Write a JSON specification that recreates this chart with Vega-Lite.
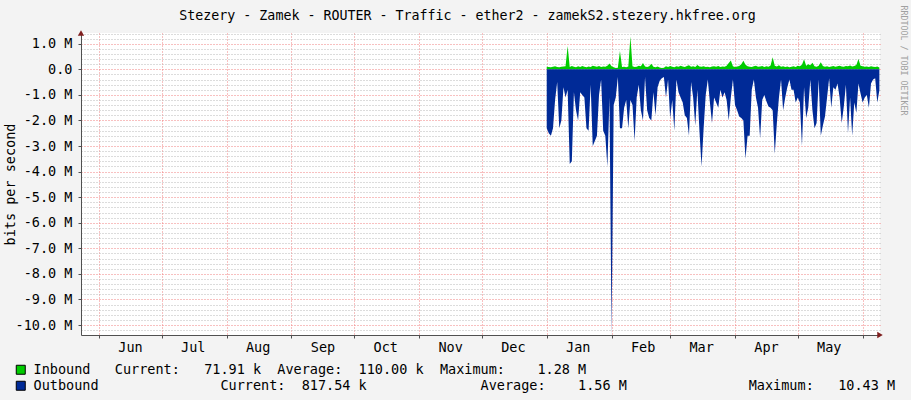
{
"$schema": "https://vega.github.io/schema/vega-lite/v6.json",
"width": 799, "height": 302,
"autosize": "none",
"padding": {"left": 81, "top": 33, "right": 31, "bottom": 65},
"background": "#f3f3f3",
"config": {"font": "DejaVu Sans Mono", "view": {"stroke": null, "fill": "#ffffff"}},
"title": {"text": "Stezery - Zamek - ROUTER - Traffic - ether2 - zamekS2.stezery.hkfree.org", "font": "DejaVu Sans Mono", "fontSize": 13.3, "fontWeight": "normal", "color": "#000000", "anchor": "middle", "dx": -13, "offset": -28, "baseline": "alphabetic"},
"data": {"values": [
{"time":"2013-01-01T00:00:00","inbound":100000,"outbound":-2300000},
{"time":"2013-01-02T00:00:00","inbound":90000,"outbound":-2500000},
{"time":"2013-01-03T00:00:00","inbound":80000,"outbound":-2600000},
{"time":"2013-01-04T00:00:00","inbound":100000,"outbound":-2300000},
{"time":"2013-01-05T00:00:00","inbound":120000,"outbound":-1200000},
{"time":"2013-01-06T00:00:00","inbound":90000,"outbound":-500000},
{"time":"2013-01-07T00:00:00","inbound":80000,"outbound":-2300000},
{"time":"2013-01-08T00:00:00","inbound":100000,"outbound":-2000000},
{"time":"2013-01-09T00:00:00","inbound":110000,"outbound":-700000},
{"time":"2013-01-10T00:00:00","inbound":120000,"outbound":-1100000},
{"time":"2013-01-11T00:00:00","inbound":910000,"outbound":-800000},
{"time":"2013-01-12T00:00:00","inbound":90000,"outbound":-3700000},
{"time":"2013-01-13T00:00:00","inbound":130000,"outbound":-3600000},
{"time":"2013-01-14T00:00:00","inbound":100000,"outbound":-900000},
{"time":"2013-01-15T00:00:00","inbound":80000,"outbound":-1600000},
{"time":"2013-01-16T00:00:00","inbound":120000,"outbound":-2000000},
{"time":"2013-01-17T00:00:00","inbound":90000,"outbound":-900000},
{"time":"2013-01-18T00:00:00","inbound":130000,"outbound":-1000000},
{"time":"2013-01-19T00:00:00","inbound":100000,"outbound":-1100000},
{"time":"2013-01-20T00:00:00","inbound":80000,"outbound":-2300000},
{"time":"2013-01-21T00:00:00","inbound":110000,"outbound":-2400000},
{"time":"2013-01-22T00:00:00","inbound":90000,"outbound":-600000},
{"time":"2013-01-23T00:00:00","inbound":140000,"outbound":-3000000},
{"time":"2013-01-24T00:00:00","inbound":120000,"outbound":-2800000},
{"time":"2013-01-25T00:00:00","inbound":100000,"outbound":-2600000},
{"time":"2013-01-26T00:00:00","inbound":130000,"outbound":-1000000},
{"time":"2013-01-27T00:00:00","inbound":90000,"outbound":-400000},
{"time":"2013-01-28T00:00:00","inbound":110000,"outbound":-2400000},
{"time":"2013-01-29T00:00:00","inbound":100000,"outbound":-2600000},
{"time":"2013-01-30T00:00:00","inbound":140000,"outbound":-3800000},
{"time":"2013-01-31T00:00:00","inbound":230000,"outbound":-1100000},
{"time":"2013-02-01T00:00:00","inbound":120000,"outbound":-10430000},
{"time":"2013-02-02T00:00:00","inbound":80000,"outbound":-1400000},
{"time":"2013-02-03T00:00:00","inbound":50000,"outbound":-1100000},
{"time":"2013-02-04T00:00:00","inbound":60000,"outbound":-300000},
{"time":"2013-02-05T00:00:00","inbound":720000,"outbound":-2300000},
{"time":"2013-02-06T00:00:00","inbound":90000,"outbound":-2300000},
{"time":"2013-02-07T00:00:00","inbound":100000,"outbound":-1500000},
{"time":"2013-02-08T00:00:00","inbound":80000,"outbound":-1200000},
{"time":"2013-02-09T00:00:00","inbound":110000,"outbound":-2300000},
{"time":"2013-02-10T00:00:00","inbound":1280000,"outbound":-1200000},
{"time":"2013-02-11T00:00:00","inbound":120000,"outbound":-1400000},
{"time":"2013-02-12T00:00:00","inbound":90000,"outbound":-2800000},
{"time":"2013-02-13T00:00:00","inbound":100000,"outbound":-1100000},
{"time":"2013-02-14T00:00:00","inbound":140000,"outbound":-600000},
{"time":"2013-02-15T00:00:00","inbound":120000,"outbound":-1600000},
{"time":"2013-02-16T00:00:00","inbound":250000,"outbound":-2000000},
{"time":"2013-02-17T00:00:00","inbound":110000,"outbound":-300000},
{"time":"2013-02-18T00:00:00","inbound":90000,"outbound":-1600000},
{"time":"2013-02-19T00:00:00","inbound":120000,"outbound":-1900000},
{"time":"2013-02-20T00:00:00","inbound":220000,"outbound":-2000000},
{"time":"2013-02-21T00:00:00","inbound":100000,"outbound":-900000},
{"time":"2013-02-22T00:00:00","inbound":80000,"outbound":-1800000},
{"time":"2013-02-23T00:00:00","inbound":110000,"outbound":-700000},
{"time":"2013-02-24T00:00:00","inbound":70000,"outbound":-450000},
{"time":"2013-02-25T00:00:00","inbound":50000,"outbound":-350000},
{"time":"2013-02-26T00:00:00","inbound":60000,"outbound":-300000},
{"time":"2013-02-27T00:00:00","inbound":120000,"outbound":-1100000},
{"time":"2013-02-28T00:00:00","inbound":90000,"outbound":-400000},
{"time":"2013-03-01T00:00:00","inbound":130000,"outbound":-1900000},
{"time":"2013-03-02T00:00:00","inbound":100000,"outbound":-1200000},
{"time":"2013-03-03T00:00:00","inbound":80000,"outbound":-2400000},
{"time":"2013-03-04T00:00:00","inbound":120000,"outbound":-400000},
{"time":"2013-03-05T00:00:00","inbound":100000,"outbound":-900000},
{"time":"2013-03-06T00:00:00","inbound":140000,"outbound":-1100000},
{"time":"2013-03-07T00:00:00","inbound":110000,"outbound":-1300000},
{"time":"2013-03-08T00:00:00","inbound":90000,"outbound":-1800000},
{"time":"2013-03-09T00:00:00","inbound":130000,"outbound":-1900000},
{"time":"2013-03-10T00:00:00","inbound":160000,"outbound":-2600000},
{"time":"2013-03-11T00:00:00","inbound":100000,"outbound":-500000},
{"time":"2013-03-12T00:00:00","inbound":120000,"outbound":-1100000},
{"time":"2013-03-13T00:00:00","inbound":90000,"outbound":-2200000},
{"time":"2013-03-14T00:00:00","inbound":170000,"outbound":-800000},
{"time":"2013-03-15T00:00:00","inbound":110000,"outbound":-2400000},
{"time":"2013-03-16T00:00:00","inbound":100000,"outbound":-3800000},
{"time":"2013-03-17T00:00:00","inbound":120000,"outbound":-2300000},
{"time":"2013-03-18T00:00:00","inbound":90000,"outbound":-1000000},
{"time":"2013-03-19T00:00:00","inbound":100000,"outbound":-400000},
{"time":"2013-03-20T00:00:00","inbound":80000,"outbound":-1300000},
{"time":"2013-03-21T00:00:00","inbound":110000,"outbound":-2100000},
{"time":"2013-03-22T00:00:00","inbound":120000,"outbound":-1100000},
{"time":"2013-03-23T00:00:00","inbound":100000,"outbound":-1300000},
{"time":"2013-03-24T00:00:00","inbound":130000,"outbound":-1500000},
{"time":"2013-03-25T00:00:00","inbound":90000,"outbound":-800000},
{"time":"2013-03-26T00:00:00","inbound":110000,"outbound":-1100000},
{"time":"2013-03-27T00:00:00","inbound":100000,"outbound":-900000},
{"time":"2013-03-28T00:00:00","inbound":140000,"outbound":-1200000},
{"time":"2013-03-29T00:00:00","inbound":250000,"outbound":-2000000},
{"time":"2013-03-30T00:00:00","inbound":340000,"outbound":-1100000},
{"time":"2013-03-31T00:00:00","inbound":120000,"outbound":-400000},
{"time":"2013-04-01T00:00:00","inbound":90000,"outbound":-1400000},
{"time":"2013-04-02T00:00:00","inbound":110000,"outbound":-1600000},
{"time":"2013-04-03T00:00:00","inbound":130000,"outbound":-1850000},
{"time":"2013-04-04T00:00:00","inbound":200000,"outbound":-1900000},
{"time":"2013-04-05T00:00:00","inbound":330000,"outbound":-2000000},
{"time":"2013-04-06T00:00:00","inbound":180000,"outbound":-3500000},
{"time":"2013-04-07T00:00:00","inbound":120000,"outbound":-2600000},
{"time":"2013-04-08T00:00:00","inbound":100000,"outbound":-2600000},
{"time":"2013-04-09T00:00:00","inbound":90000,"outbound":-800000},
{"time":"2013-04-10T00:00:00","inbound":120000,"outbound":-400000},
{"time":"2013-04-11T00:00:00","inbound":140000,"outbound":-1100000},
{"time":"2013-04-12T00:00:00","inbound":100000,"outbound":-1500000},
{"time":"2013-04-13T00:00:00","inbound":110000,"outbound":-2700000},
{"time":"2013-04-14T00:00:00","inbound":130000,"outbound":-1200000},
{"time":"2013-04-15T00:00:00","inbound":90000,"outbound":-1000000},
{"time":"2013-04-16T00:00:00","inbound":120000,"outbound":-1250000},
{"time":"2013-04-17T00:00:00","inbound":100000,"outbound":-1450000},
{"time":"2013-04-18T00:00:00","inbound":150000,"outbound":-1500000},
{"time":"2013-04-19T00:00:00","inbound":470000,"outbound":-1600000},
{"time":"2013-04-20T00:00:00","inbound":140000,"outbound":-3300000},
{"time":"2013-04-21T00:00:00","inbound":110000,"outbound":-2100000},
{"time":"2013-04-22T00:00:00","inbound":160000,"outbound":-1100000},
{"time":"2013-04-23T00:00:00","inbound":100000,"outbound":-400000},
{"time":"2013-04-24T00:00:00","inbound":120000,"outbound":-1600000},
{"time":"2013-04-25T00:00:00","inbound":90000,"outbound":-1100000},
{"time":"2013-04-26T00:00:00","inbound":110000,"outbound":-700000},
{"time":"2013-04-27T00:00:00","inbound":80000,"outbound":-400000},
{"time":"2013-04-28T00:00:00","inbound":100000,"outbound":-800000},
{"time":"2013-04-29T00:00:00","inbound":120000,"outbound":-800000},
{"time":"2013-04-30T00:00:00","inbound":90000,"outbound":-1300000},
{"time":"2013-05-01T00:00:00","inbound":140000,"outbound":-1100000},
{"time":"2013-05-02T00:00:00","inbound":120000,"outbound":-1300000},
{"time":"2013-05-03T00:00:00","inbound":180000,"outbound":-3000000},
{"time":"2013-05-04T00:00:00","inbound":390000,"outbound":-700000},
{"time":"2013-05-05T00:00:00","inbound":140000,"outbound":-1900000},
{"time":"2013-05-06T00:00:00","inbound":200000,"outbound":-1500000},
{"time":"2013-05-07T00:00:00","inbound":160000,"outbound":-400000},
{"time":"2013-05-08T00:00:00","inbound":260000,"outbound":-1600000},
{"time":"2013-05-09T00:00:00","inbound":120000,"outbound":-2300000},
{"time":"2013-05-10T00:00:00","inbound":100000,"outbound":-2100000},
{"time":"2013-05-11T00:00:00","inbound":140000,"outbound":-400000},
{"time":"2013-05-12T00:00:00","inbound":280000,"outbound":-2600000},
{"time":"2013-05-13T00:00:00","inbound":130000,"outbound":-2200000},
{"time":"2013-05-14T00:00:00","inbound":100000,"outbound":-1850000},
{"time":"2013-05-15T00:00:00","inbound":120000,"outbound":-1100000},
{"time":"2013-05-16T00:00:00","inbound":90000,"outbound":-350000},
{"time":"2013-05-17T00:00:00","inbound":110000,"outbound":-1500000},
{"time":"2013-05-18T00:00:00","inbound":130000,"outbound":-700000},
{"time":"2013-05-19T00:00:00","inbound":100000,"outbound":-800000},
{"time":"2013-05-20T00:00:00","inbound":120000,"outbound":-550000},
{"time":"2013-05-21T00:00:00","inbound":140000,"outbound":-1100000},
{"time":"2013-05-22T00:00:00","inbound":110000,"outbound":-2100000},
{"time":"2013-05-23T00:00:00","inbound":100000,"outbound":-1450000},
{"time":"2013-05-24T00:00:00","inbound":130000,"outbound":-600000},
{"time":"2013-05-25T00:00:00","inbound":120000,"outbound":-2500000},
{"time":"2013-05-26T00:00:00","inbound":150000,"outbound":-1100000},
{"time":"2013-05-27T00:00:00","inbound":110000,"outbound":-2600000},
{"time":"2013-05-28T00:00:00","inbound":130000,"outbound":-1300000},
{"time":"2013-05-29T00:00:00","inbound":170000,"outbound":-1700000},
{"time":"2013-05-30T00:00:00","inbound":400000,"outbound":-550000},
{"time":"2013-05-31T00:00:00","inbound":140000,"outbound":-950000},
{"time":"2013-06-01T00:00:00","inbound":120000,"outbound":-1300000},
{"time":"2013-06-02T00:00:00","inbound":100000,"outbound":-1100000},
{"time":"2013-06-03T00:00:00","inbound":110000,"outbound":-1000000},
{"time":"2013-06-04T00:00:00","inbound":90000,"outbound":-1500000},
{"time":"2013-06-05T00:00:00","inbound":120000,"outbound":-550000},
{"time":"2013-06-06T00:00:00","inbound":100000,"outbound":-400000},
{"time":"2013-06-07T00:00:00","inbound":90000,"outbound":-350000},
{"time":"2013-06-08T00:00:00","inbound":110000,"outbound":-1300000},
{"time":"2013-06-09T00:00:00","inbound":72000,"outbound":-818000}
]},
"encoding": {
 "x": {"field": "time", "type": "temporal",
  "scale": {"domain": [{"year": 2012, "month": 5, "date": 23, "hours": 9, "minutes": 36}, {"year": 2013, "month": 6, "date": 9, "hours": 7, "minutes": 12}]},
  "axis": {"orient": "bottom", "title": null, "tickCount": {"interval": "month", "step": 1}, "format": "%b",
   "labelExpr": "datum.value >= datetime(2013,5,1) ? '' : datum.label",
   "labelOffset": 31, "labelAlign": "center", "labelFlush": false, "labelOverlap": false, "labelBound": false,
   "labelFont": "DejaVu Sans Mono", "labelFontSize": 13.5, "labelColor": "#000000", "labelPadding": 2,
   "tickSize": 3, "tickColor": "#505050", "domainColor": "#505050",
   "grid": true, "gridColor": "#f08080", "gridDash": [1, 2]}}
},
"layer": [
{
 "mark": {"type": "area", "interpolate": "linear"},
 "encoding": {
  "y": {"field": "inbound", "type": "quantitative",
   "scale": {"domain": [-10390000, 1420000], "nice": false},
   "axis": {"orient": "left",
    "values": [-10200000,-10000000,-9800000,-9600000,-9400000,-9200000,-9000000,-8800000,-8600000,-8400000,-8200000,-8000000,-7800000,-7600000,-7400000,-7200000,-7000000,-6800000,-6600000,-6400000,-6200000,-6000000,-5800000,-5600000,-5400000,-5200000,-5000000,-4800000,-4600000,-4400000,-4200000,-4000000,-3800000,-3600000,-3400000,-3200000,-3000000,-2800000,-2600000,-2400000,-2200000,-2000000,-1800000,-1600000,-1400000,-1200000,-1000000,-800000,-600000,-400000,-200000,0,200000,400000,600000,800000,1000000,1200000,1400000],
    "title": "bits per second", "titleFont": "DejaVu Sans Mono", "titleFontSize": 13.5, "titleFontWeight": "normal", "titleColor": "#000000",
    "titleAngle": -90, "titleX": -71, "titleY": 151, "titleAlign": "center", "titleBaseline": "middle",
    "labelExpr": "datum.value % 1000000 == 0 ? (datum.value == 0 ? '0.0\u00a0\u00a0' : (datum.value < 0 ? '-' : '') + format(abs(datum.value) / 1000000, '.1f') + '\u00a0M') : ''",
    "labelFont": "DejaVu Sans Mono", "labelFontSize": 13.5, "labelColor": "#000000", "labelPadding": 6, "labelAlign": "right", "labelBaseline": "middle",
    "labelOverlap": false, "labelBound": false, "labelFlush": false,
    "tickSize": 3, "tickColor": "#505050",
    "tickOpacity": {"condition": {"test": "datum.value % 1000000 == 0", "value": 1}, "value": 0},
    "domainColor": "#505050",
    "grid": true,
    "gridColor": {"condition": {"test": "datum.value % 1000000 == 0", "value": "#f08080"}, "value": "#b8b8b8"},
    "gridDash": [1, 2]}},
  "y2": {"datum": 0},
  "color": {"datum": "Inbound", "type": "nominal",
   "scale": {"domain": ["Inbound", "Outbound"], "range": ["#00cc00", "#002a97"]},
   "legend": {"orient": "none", "legendX": -67, "legendY": 330, "direction": "vertical", "title": null,
    "symbolType": "square", "symbolSize": 81, "symbolStrokeColor": "#000000", "symbolStrokeWidth": 1, "symbolOpacity": 1,
    "labelFont": "DejaVu Sans Mono", "labelFontSize": 13.5, "labelColor": "#000000", "labelLimit": 2000, "labelOffset": 6,
    "rowPadding": 1, "padding": 0,
    "labelExpr": "datum.label == 'Inbound' ? 'Inbound\u00a0\u00a0\u00a0Current:\u00a0\u00a0\u00a071.91\u00a0k\u00a0\u00a0Average:\u00a0\u00a0110.00\u00a0k\u00a0\u00a0Maximum:\u00a0\u00a0\u00a0\u00a01.28\u00a0M' : 'Outbound\u00a0\u00a0\u00a0\u00a0\u00a0\u00a0\u00a0\u00a0\u00a0\u00a0\u00a0\u00a0\u00a0\u00a0\u00a0Current:\u00a0\u00a0817.54\u00a0k\u00a0\u00a0\u00a0\u00a0\u00a0\u00a0\u00a0\u00a0\u00a0\u00a0\u00a0\u00a0\u00a0\u00a0Average:\u00a0\u00a0\u00a0\u00a01.56\u00a0M\u00a0\u00a0\u00a0\u00a0\u00a0\u00a0\u00a0\u00a0\u00a0\u00a0\u00a0\u00a0\u00a0\u00a0\u00a0Maximum:\u00a0\u00a0\u00a010.43\u00a0M'"}}
 }
},
{
 "mark": {"type": "area", "interpolate": "linear"},
 "encoding": {
  "y": {"field": "outbound", "type": "quantitative", "axis": null},
  "y2": {"datum": 0},
  "color": {"datum": "Outbound", "type": "nominal"}
 }
},
{
 "data": {"values": [{"time": "2012-05-23T09:36:00", "value": 1420000}]},
 "mark": {"type": "point", "shape": "triangle-up", "filled": true, "size": 40, "color": "#7f1f1f", "opacity": 1},
 "encoding": {
  "y": {"field": "value", "type": "quantitative",
   "axis": {"orient": "right", "title": "RRDTOOL / TOBI OETIKER", "labels": false, "ticks": false, "domain": false, "grid": false,
    "titleFont": "DejaVu Sans Mono", "titleFontSize": 8.3, "titleFontWeight": "normal", "titleColor": "#a0a0a0",
    "titleAngle": 90, "titleX": 22.5, "titleY": -28, "titleAlign": "left", "titleBaseline": "middle"}}
 }
},
{
 "data": {"values": [{"time": "2013-06-09T07:12:00", "value": -10390000}]},
 "mark": {"type": "point", "shape": "triangle-right", "filled": true, "size": 40, "color": "#7f1f1f", "opacity": 1},
 "encoding": {
  "y": {"field": "value", "type": "quantitative", "axis": null}
 }
}
],
"resolve": {"axis": {"y": "independent"}}
}
